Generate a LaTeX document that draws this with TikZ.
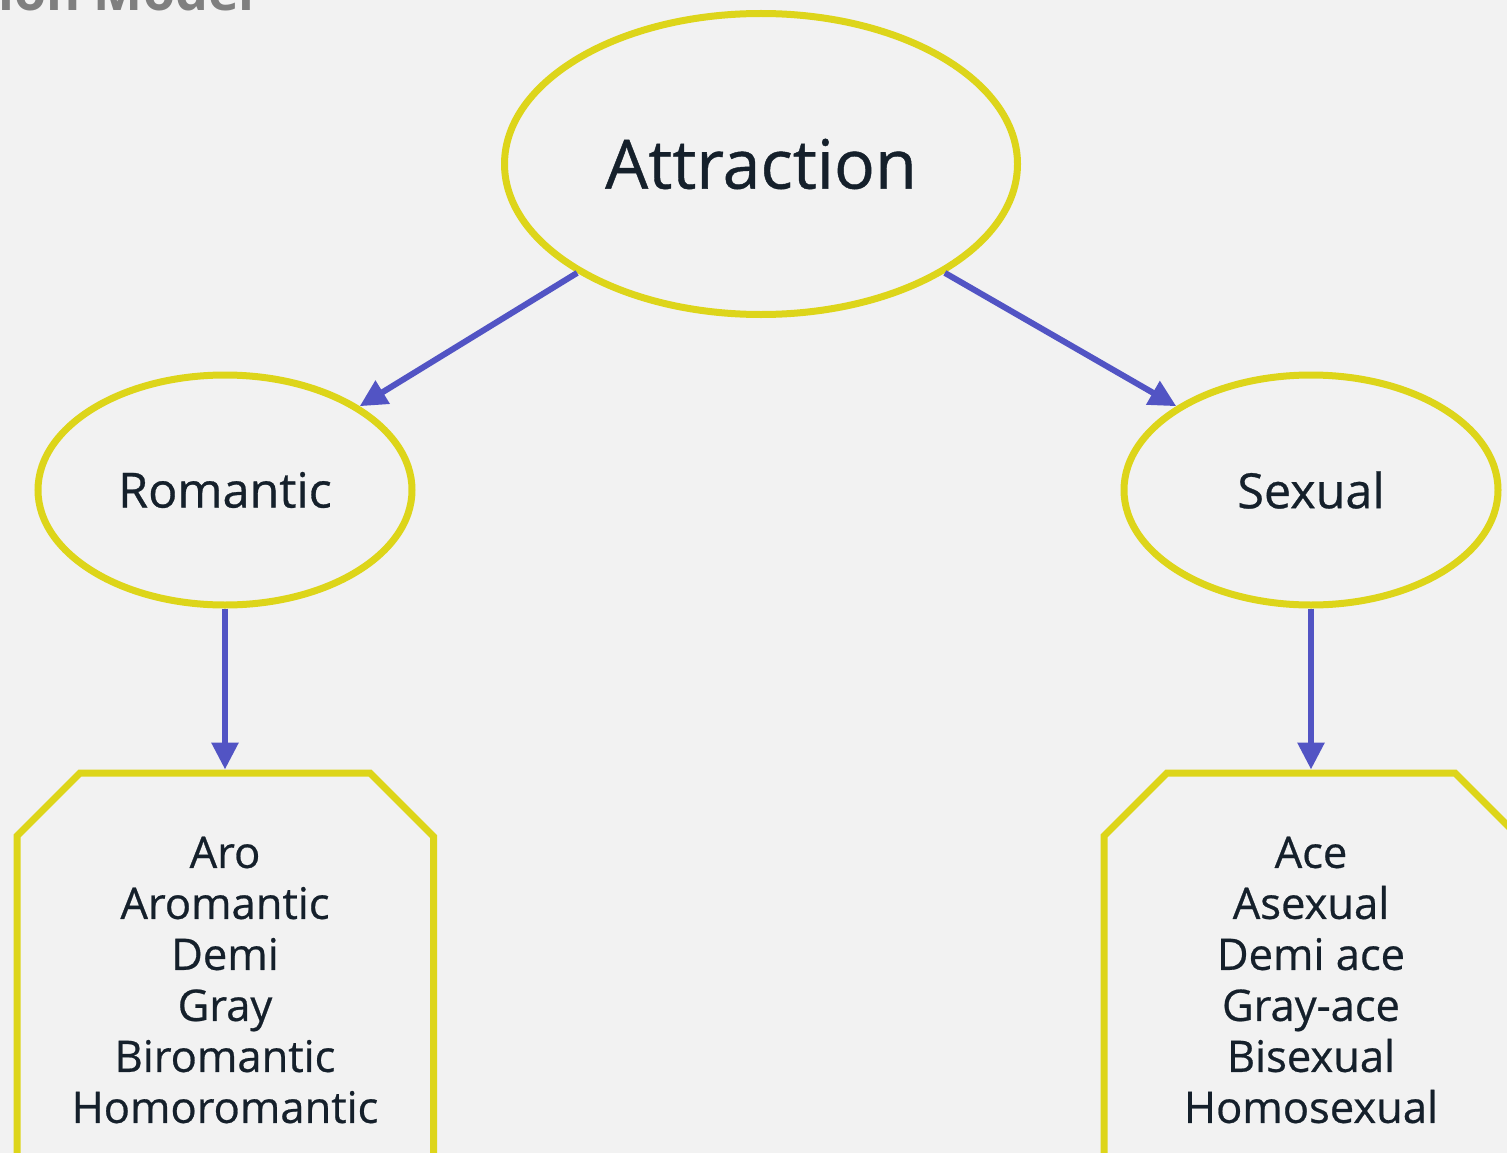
\documentclass[tikz,border=0pt]{standalone}
\usepackage{fontspec}
\setmainfont{Open Sans}
\newfontfamily\attfont[FakeBold=0.6]{Open Sans}
\usetikzlibrary{shapes.geometric,arrows.meta,positioning}
\definecolor{bggrey}{HTML}{F2F2F2}
\definecolor{attyellow}{HTML}{DDD51A}
\definecolor{attblue}{HTML}{5254C4}
\definecolor{atttext}{HTML}{15202B}
\definecolor{ttlgrey}{HTML}{7F7F7F}
\tikzset{
  bubble/.style={ellipse,draw=attyellow,line width=7pt,inner sep=0pt,text=atttext},
  listbox/.style={draw=attyellow,line width=7pt,line join=miter},
  listtext/.style={align=center,text=atttext,inner sep=0pt,font=\attfont\fontsize{43.5}{51}\selectfont},
  link/.style={draw=attblue,line width=6pt,-{Triangle[length=27pt,width=26pt]}}
}

\begin{document}
\begin{tikzpicture}[x=1pt,y=-1pt]
          \fill[bggrey] (0,0) rectangle (1507,1153);
          \useasboundingbox (0,0) rectangle (1507,1153);
          \clip (0,0) rectangle (1507,1153);
          \node[anchor=base east,text=ttlgrey,inner sep=0pt,font=\fontsize{52}{60}\selectfont\bfseries] (title) at (255,11) {Split Attraction Model};
          % top level
          \node[bubble,minimum width=513pt,minimum height=301pt,font=\attfont\fontsize{68}{80}\selectfont] (attr) at (761,164) {Attraction};
          % the two kinds
          \node[bubble,minimum width=374pt,minimum height=230pt,font=\attfont\fontsize{48.5}{58}\selectfont] (rom) at (225,490) {Romantic};
          \node[bubble,minimum width=374pt,minimum height=230pt,font=\attfont\fontsize{48.5}{58}\selectfont] (sex) at (1311,490) {Sexual};
          % lists, cut off at the bottom
          \coordinate (romtop) at (225,769.5);
          \coordinate (sextop) at (1311,769.5);
          \draw[listbox] (17,1200) -- (17,836) -- (80,773) -- (370,773) -- (433.5,836.5) -- (433.5,1200);
          \draw[listbox] (1104,1200) -- (1104,836) -- (1167,773) -- (1455,773) -- (1518,836) -- (1518,1200);
          \node[listtext] (romwords) at (225,980) {Aro\\Aromantic\\Demi\\Gray\\Biromantic\\Homoromantic};
          \node[listtext] (sexwords) at (1311,980) {Ace\\Asexual\\Demi ace\\Gray-ace\\Bisexual\\Homosexual};
          % connectors
          \draw[link] (attr.south west) -- (rom.north east);
          \draw[link] (attr.south east) -- (sex.north west);
          \draw[link] (rom.south) -- (romtop);
          \draw[link] (sex.south) -- (sextop);
\end{tikzpicture}
\end{document}
